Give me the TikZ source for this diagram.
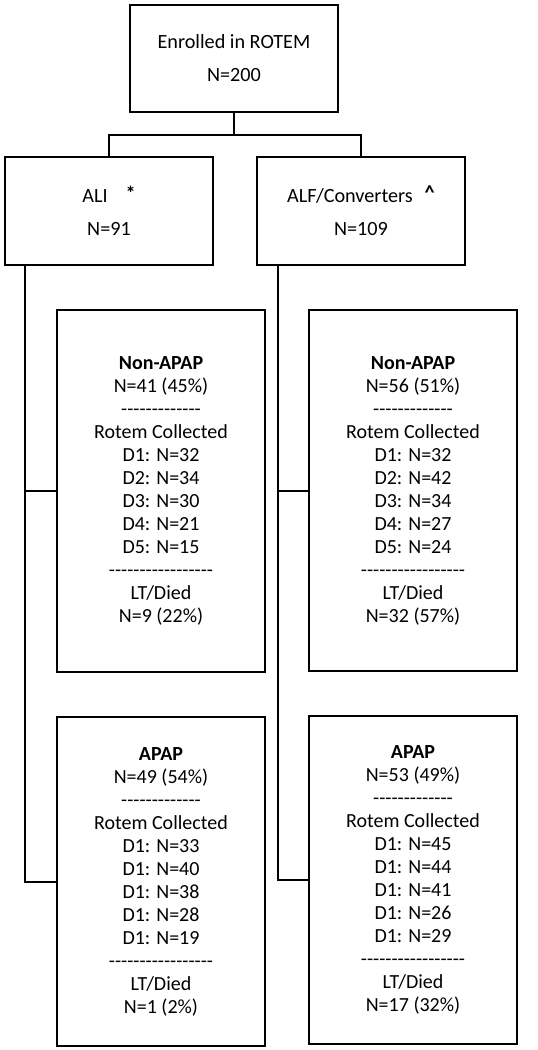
\documentclass[tikz,border=0pt]{standalone}
\usepackage{fontspec}
\setmainfont{Carlito}
\begin{document}
\begin{tikzpicture}[x=1pt,y=1pt,
  box/.style={draw=black, line width=2pt, rectangle, inner sep=0pt, align=center, minimum width=208pt},
  bigtxt/.style={font=\fontsize{20.2}{33}\selectfont},
  smalltxt/.style={font=\fontsize{20}{23}\selectfont},
  conn/.style={draw=black, line width=2pt, line join=miter}]
\useasboundingbox (0,0) rectangle (538,-1050);
\fill[white] (0,0) rectangle (538,-1050);

\node[box, bigtxt, minimum height=107pt] (top) at (234,-58.5) {Enrolled in ROTEM\\N=200};
\node[box, bigtxt, minimum height=108pt] (ali) at (109,-211) {ALI\hspace{18pt}\raisebox{2pt}{\textbf{*}}\\N=91};
\node[box, bigtxt, minimum height=108pt] (alf) at (361,-211) {ALF/Converters\hspace{12pt}\raisebox{3pt}{\textbf{\textasciicircum}}\\N=109};

\node[box, smalltxt, minimum height=362pt] (nonL) at (161,-491) {\textbf{Non-APAP}\\N=41 (45\%)\\-{}-{}-{}-{}-{}-{}-{}-{}-{}-{}-{}-{}-\\Rotem Collected\\D1: N=32\\D2: N=34\\D3: N=30\\D4: N=21\\D5: N=15\\-{}-{}-{}-{}-{}-{}-{}-{}-{}-{}-{}-{}-{}-{}-{}-{}-\\LT/Died\\N=9 (22\%)};
\node[box, smalltxt, minimum height=361pt] (nonR) at (413,-490.5) {\textbf{Non-APAP}\\N=56 (51\%)\\-{}-{}-{}-{}-{}-{}-{}-{}-{}-{}-{}-{}-\\Rotem Collected\\D1: N=32\\D2: N=42\\D3: N=34\\D4: N=27\\D5: N=24\\-{}-{}-{}-{}-{}-{}-{}-{}-{}-{}-{}-{}-{}-{}-{}-{}-\\LT/Died\\N=32 (57\%)};
\node[box, smalltxt, minimum height=329pt] (apapL) at (161,-881.5) {\textbf{APAP}\\N=49 (54\%)\\-{}-{}-{}-{}-{}-{}-{}-{}-{}-{}-{}-{}-\\Rotem Collected\\D1: N=33\\D1: N=40\\D1: N=38\\D1: N=28\\D1: N=19\\-{}-{}-{}-{}-{}-{}-{}-{}-{}-{}-{}-{}-{}-{}-{}-{}-\\LT/Died\\N=1 (2\%)};
\node[box, smalltxt, minimum height=328pt] (apapR) at (413,-880) {\textbf{APAP}\\N=53 (49\%)\\-{}-{}-{}-{}-{}-{}-{}-{}-{}-{}-{}-{}-\\Rotem Collected\\D1: N=45\\D1: N=44\\D1: N=41\\D1: N=26\\D1: N=29\\-{}-{}-{}-{}-{}-{}-{}-{}-{}-{}-{}-{}-{}-{}-{}-{}-\\LT/Died\\N=17 (32\%)};

\coordinate (split) at (234,-135);
\coordinate (ltrunk) at (25,-265);
\coordinate (rtrunk) at (278,-265);

\draw[conn] (top.south) -- (split);
\draw[conn] (split) -| (ali.north);
\draw[conn] (split) -| (alf.north);
\draw[conn] (ltrunk) |- (nonL.west);
\draw[conn] (ltrunk) |- (apapL.west);
\draw[conn] (rtrunk) |- (nonR.west);
\draw[conn] (rtrunk) |- (apapR.west);
\end{tikzpicture}
\end{document}
